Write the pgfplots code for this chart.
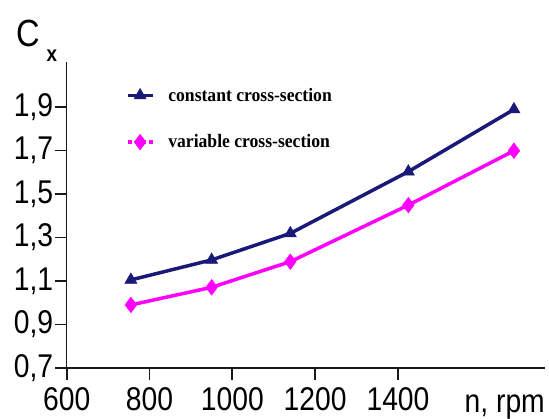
\documentclass[border=0pt]{standalone}
\usepackage{pgfplots}
\pgfplotsset{compat=1.18}
\usepackage{fontspec}
\setmainfont{Liberation Sans}[FakeStretch=0.86]
\newfontfamily\legfont{Liberation Serif}[FakeStretch=0.93]
\definecolor{navyc}{RGB}{25,25,120}
\definecolor{magc}{RGB}{255,0,255}
\begin{document}
\begin{tikzpicture}
\begin{axis}[name=ax, scale only axis, width=478.3bp, height=306bp,
  xmin=600, xmax=1755, ymin=0.7, ymax=2.107,
  axis lines=left,
  axis line style={-, line width=1.6bp, black!90},
  xtick={600,800,1000,1200,1400},
  ytick={0.7,0.9,1.1,1.3,1.5,1.7,1.9},
  tick align=outside, major tick length=12bp,
  major tick style={line width=1.6bp, draw=black!90},
  tick label style={font=\fontsize{33}{36}\selectfont, fill=none},
  /pgf/number format/assume math mode=true,
  xticklabel style={/pgf/number format/1000 sep={}, yshift=-4bp},
  yticklabel style={/pgf/number format/.cd, use comma, fixed, fixed zerofill, precision=1, /tikz/xshift=2bp},
  clip=false,
  legend cell align=left,
  legend style={at={(rel axis cs:0.117,0.925)}, anchor=north west, draw=none, fill=none,
    font=\legfont\bfseries\fontsize{19}{21}\selectfont, row sep=30bp,
    nodes={inner sep=1bp},
    /tikz/every odd column/.append style={column sep=13bp}},
  legend image code/.code={\draw[mark repeat=2, mark phase=2,#1] plot coordinates {(0bp,0bp) (12.5bp,0bp) (25bp,0bp)};},
  tickline/.style={black!90, line width=1.8bp, no markers, forget plot},
]
\addplot[navyc, line width=3.5bp, mark=triangle*, mark size=7bp, mark options={solid, line width=0.5bp}]
  coordinates {(755,1.105) (950,1.197) (1140,1.319) (1425,1.603) (1680,1.889)};
\addlegendentry{constant cross-section}
\addplot[magc, line width=3.5bp, mark=diamond*, mark size=7.8bp, mark options={solid, line width=0.5bp},
  legend image post style={dash pattern=on 4bp off 3bp}]
  coordinates {(755,0.990) (950,1.071) (1140,1.189) (1425,1.449) (1680,1.699)};
\addlegendentry{variable cross-section}
% tick marks drawn as short data lines
\addplot[tickline] coordinates {(600,0.7) (600,0.645)};
\addplot[tickline] coordinates {(800,0.7) (800,0.645)};
\addplot[tickline] coordinates {(1000,0.7) (1000,0.645)};
\addplot[tickline] coordinates {(1200,0.7) (1200,0.645)};
\addplot[tickline] coordinates {(1400,0.7) (1400,0.645)};
\addplot[tickline] coordinates {(600,0.7) (571,0.7)};
\addplot[tickline] coordinates {(600,0.9) (571,0.9)};
\addplot[tickline] coordinates {(600,1.1) (571,1.1)};
\addplot[tickline] coordinates {(600,1.3) (571,1.3)};
\addplot[tickline] coordinates {(600,1.5) (571,1.5)};
\addplot[tickline] coordinates {(600,1.7) (571,1.7)};
\addplot[tickline] coordinates {(600,1.9) (571,1.9)};
\end{axis}
\node[anchor=base west, inner sep=0pt] at ([xshift=-50.7bp, yshift=15bp]ax.north west)
  {\fontsize{38}{40}\selectfont C\hspace{7bp}\raisebox{-15bp}{\fontsize{22}{22}\selectfont\bfseries x}};
\node[anchor=base east, inner sep=0pt] at ([yshift=-44bp]ax.south east)
  {\fontsize{33}{36}\selectfont n, rpm};
\pgfresetboundingbox
\path[use as bounding box] (ax.south west) ++(-66.7bp,-51bp) rectangle ++(549bp,419bp);
\end{tikzpicture}
\end{document}
